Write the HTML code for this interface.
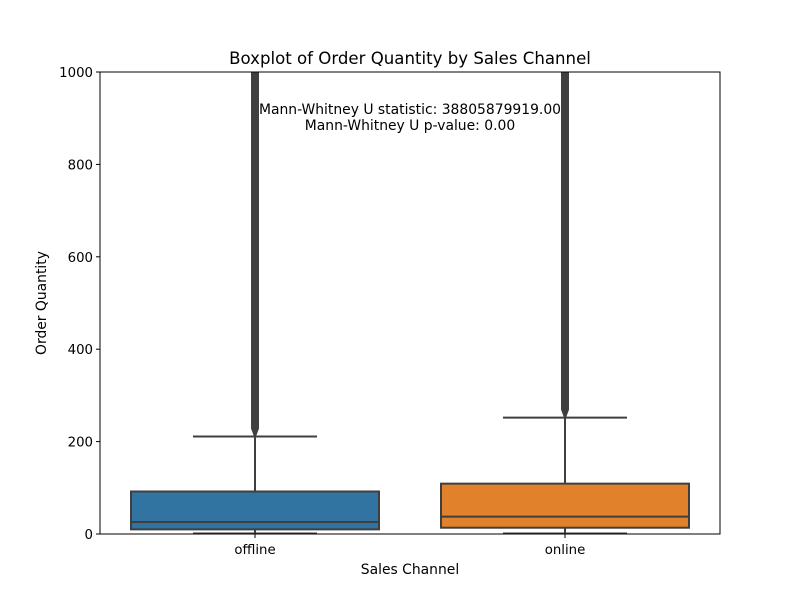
<!DOCTYPE html>
<html><head><meta charset="utf-8"><style>
body{margin:0;background:#fff;font-family:"Liberation Sans","DejaVu Sans",sans-serif}
text{font-family:"DejaVu Sans","Liberation Sans",sans-serif}
</style></head><body>
<svg id="c" width="800" height="600">
<rect width="800" height="600" fill="#fff"/>
</svg>
<script>
const categories=["offline","online"];
const q1=[10,13.6];
const median=[26,37.5];
const q3=[92,109];
const whiskerLow=[1,1];
const whiskerHigh=[211,252];
const flierMax=[1000,1000];
const colors=["#3274a1","#e1812c"];
const yTicks=[0,200,400,600,800,1000];
const L=100,R=720,T=72,B=534;
const y=v=>B-(v-0)/(1000-0)*(B-T);
const band=(R-L)/categories.length;
const xc=i=>L+band*(i+0.5);
const svg=document.getElementById('c');
const NS='http://www.w3.org/2000/svg';
function mk(tag,attrs,parent){const e=document.createElementNS(NS,tag);for(const k in attrs)e.setAttribute(k,attrs[k]);(parent||svg).appendChild(e);return e;}
const clip=mk('clipPath',{id:'pc'});mk('rect',{x:L,y:T,width:R-L,height:B-T},clip);
const g=mk('g',{'clip-path':'url(#pc)'});


const lc='#3f3f3f',bw=band*0.8;
categories.forEach((c,i)=>{
  const x=xc(i);
  const f=mk('path',{d:`M${x-4},${y(flierMax[i])-4} L${x+4},${y(flierMax[i])-4} L${x+4},${y(whiskerHigh[i])-8} L${x+1},${y(whiskerHigh[i])} L${x-1},${y(whiskerHigh[i])} L${x-4},${y(whiskerHigh[i])-8} Z`,fill:lc},g);
  
  
  const w=mk('line',{x1:x,x2:x,y1:y(whiskerHigh[i]),y2:y(q3[i]),stroke:lc,'stroke-width':2},g);
  
  
  const w2=mk('line',{x1:x,x2:x,y1:y(q1[i]),y2:y(whiskerLow[i]),stroke:lc,'stroke-width':2},g);
  
  
  [whiskerHigh[i],whiskerLow[i]].forEach((v,k)=>{
    const cap=mk('line',{x1:x-bw/4,x2:x+bw/4,y1:y(v),y2:y(v),stroke:lc,'stroke-width':2},g);
    
    
  });
  const b=mk('rect',{x:x-bw/2,y:y(q3[i]),width:bw,height:y(q1[i])-y(q3[i]),fill:colors[i],stroke:lc,'stroke-width':2},g);
  
  
  const m=mk('line',{x1:x-bw/2,x2:x+bw/2,y1:y(median[i]),y2:y(median[i]),stroke:lc,'stroke-width':2},g);
  
  
  const t=mk('line',{x1:x,x2:x,y1:B,y2:B+4,stroke:'#000','stroke-width':1});
  
  
  const tl=mk('text',{x:x,y:B+20,'text-anchor':'middle','font-size':13.3});
  tl.textContent=c;
  
  
});
yTicks.forEach(v=>{
  const t=mk('line',{x1:L-4,x2:L,y1:y(v),y2:y(v),stroke:'#000','stroke-width':1});
  
  
  const tl=mk('text',{x:L-7,y:y(v)+5,'text-anchor':'end','font-size':13.3});
  tl.textContent=v;
  
  
});
const fr=mk('rect',{x:L,y:T,width:R-L,height:B-T,fill:'none',stroke:'#000','stroke-width':1});


function txt(s,x,yy,size,name,extra){const e=mk('text',Object.assign({x:x,y:yy,'text-anchor':'middle','font-size':size},extra||{}));e.textContent=s;

return e;}
txt('Boxplot of Order Quantity by Sales Channel',410,64,16.6,'chart-title');
txt('Mann-Whitney U statistic: 38805879919.00',410,114,13.9,'stat-annotation');
txt('Mann-Whitney U p-value: 0.00',410,130,13.9,'pvalue-annotation');
txt('Sales Channel',410,574,13.9,'x-axis-title');
txt('Order Quantity',46,303,13.9,'y-axis-title',{transform:'rotate(-90 46 303)'});
</script>
</body></html>
